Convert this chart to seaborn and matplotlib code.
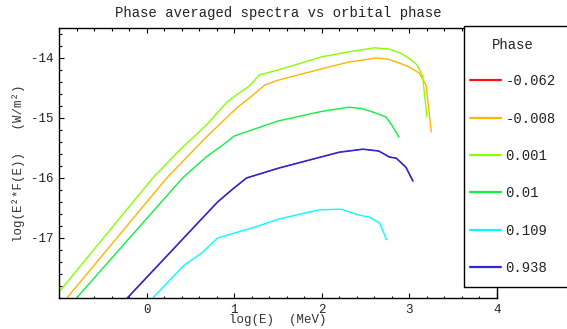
import numpy as np
import pandas as pd
import matplotlib
matplotlib.use("Agg")
import matplotlib.pyplot as plt
import seaborn as sns
from matplotlib.patches import Rectangle
from matplotlib.lines import Line2D
from matplotlib.ticker import MultipleLocator, FormatStrFormatter

# ---- data ----
phases = ["-0.062", "-0.008", "0.001", "0.01", "0.109", "0.938"]
colors = ["#ff1010", "#ffb400", "#88ff00", "#10ee40", "#00ffff", "#2a2ad0"]

x_m0062 = [-0.22, 0.81, 0.97, 1.14, 1.52, 1.86, 2.2, 2.47, 2.65, 2.77, 2.85, 2.96, 3.04]
y_m0062 = [-18.0, -16.4, -16.2, -16.0, -15.83, -15.7, -15.57, -15.52, -15.55, -15.65, -15.67, -15.82, -16.05]

x_m0008 = [-0.91, 0.23, 0.68, 1.03, 1.17, 1.35, 1.5, 2.0, 2.3, 2.62, 2.76, 2.86, 3.0, 3.11, 3.19, 3.25]
y_m0008 = [-18.0, -16.0, -15.32, -14.83, -14.67, -14.45, -14.37, -14.18, -14.07, -14.0, -14.02, -14.07, -14.15, -14.25, -14.45, -15.23]

x_0001 = [-1.0, 0.07, 0.38, 0.68, 0.92, 1.02, 1.17, 1.29, 1.5, 2.0, 2.3, 2.6, 2.77, 2.9, 3.02, 3.09, 3.15, 3.2]
y_0001 = [-17.9, -16.0, -15.53, -15.12, -14.73, -14.62, -14.47, -14.28, -14.2, -13.98, -13.9, -13.83, -13.85, -13.92, -14.03, -14.12, -14.3, -14.98]

x_001 = [-0.8, 0.41, 0.68, 0.87, 1.0, 1.5, 2.0, 2.31, 2.45, 2.58, 2.73, 2.8, 2.88]
y_001 = [-18.0, -16.0, -15.65, -15.45, -15.3, -15.05, -14.89, -14.82, -14.84, -14.9, -14.98, -15.12, -15.32]

x_0109 = [0.07, 0.43, 0.63, 0.81, 1.23, 1.52, 1.97, 2.22, 2.43, 2.54, 2.66, 2.74]
y_0109 = [-18.0, -17.45, -17.25, -17.0, -16.82, -16.68, -16.53, -16.52, -16.62, -16.65, -16.75, -17.03]

x_0938 = [-0.22, 0.81, 0.97, 1.14, 1.52, 1.86, 2.2, 2.47, 2.65, 2.77, 2.85, 2.96, 3.04]
y_0938 = [-18.0, -16.4, -16.2, -16.0, -15.83, -15.7, -15.57, -15.52, -15.55, -15.65, -15.67, -15.82, -16.05]

xs = [x_m0062, x_m0008, x_0001, x_001, x_0109, x_0938]
ys = [y_m0062, y_m0008, y_0001, y_001, y_0109, y_0938]

frames = []
for p, xv, yv in zip(phases, xs, ys):
    frames.append(pd.DataFrame({"logE": xv, "logF": yv, "Phase": p}))
df = pd.concat(frames, ignore_index=True)

# ---- style ----
sns.set_theme(style="ticks", rc={
    "xtick.direction": "in", "ytick.direction": "in",
    "xtick.top": True, "ytick.right": True,
    "xtick.major.size": 3.5, "ytick.major.size": 3.5,
    "xtick.minor.size": 1.8, "ytick.minor.size": 1.8,
    "xtick.major.width": 0.8, "ytick.major.width": 0.8,
    "xtick.minor.width": 0.8, "ytick.minor.width": 0.8,
    "xtick.color": "black", "ytick.color": "black",
})
mono = "Liberation Mono"
plt.rcParams["font.family"] = [mono, "DejaVu Sans"]
plt.rcParams["axes.unicode_minus"] = False

W, H = 567, 329
fig = plt.figure(figsize=(W / 100, H / 100), dpi=100)
L, R, T, B = 59, 497, 28, 298
ax = fig.add_axes([L / W, 1 - B / H, (R - L) / W, (B - T) / H])

sns.lineplot(data=df, x="logE", y="logF", hue="Phase", hue_order=phases,
             palette=dict(zip(phases, colors)), sort=False, estimator=None,
             units="Phase", linewidth=1.0, legend=False, ax=ax)
# the hidden red curve lies exactly beneath the blue one: keep it thinner
ax.lines[0].set_linewidth(0.6)
ax.lines[-1].set_linewidth(1.2)

ax.set_xlim(-1, 4)
ax.set_ylim(-18, -13.5)
ax.set_xticks([0, 1, 2, 3, 4])
ax.set_yticks([-17, -16, -15, -14])
ax.xaxis.set_minor_locator(MultipleLocator(0.2))
ax.yaxis.set_minor_locator(MultipleLocator(0.2))
ax.xaxis.set_major_formatter(FormatStrFormatter("%d"))
ax.yaxis.set_major_formatter(FormatStrFormatter("%d"))

ax.tick_params(which="both", direction="in", top=True, right=True,
               bottom=True, left=True,
               color="black", width=0.8, labelsize=9, labelcolor="#222222")
ax.tick_params(which="major", length=3.5, pad=4)
ax.tick_params(which="minor", length=1.8)
for s in ax.spines.values():
    s.set_visible(True)
    s.set_color("black")
    s.set_linewidth(1.0)

ax.set_title("Phase averaged spectra vs orbital phase", fontsize=10,
             color="#222222", pad=8)
ax.set_xlabel("log(E)  (MeV)", fontsize=9, color="#333333", labelpad=-1)
ax.set_ylabel("log(E²*F(E))   (W/m²)", fontsize=9, color="#333333", labelpad=4)

# legend box covering right part of the axes
rect = Rectangle((464 / W, 1 - 287 / H), 0.5, (287 - 26) / H,
                 transform=fig.transFigure, facecolor="white",
                 edgecolor="black", linewidth=1.0, zorder=3)
fig.patches.append(rect)

handles = [Line2D([0], [0], color=c, lw=1.6) for c in colors]
leg = fig.legend(handles, phases, loc="upper left",
                 bbox_to_anchor=(470 / W, 1 - 38 / H), bbox_transform=fig.transFigure,
                 frameon=False, title="Phase", fontsize=10, title_fontsize=10,
                 handlelength=2.25, handletextpad=0.3, labelspacing=1.68,
                 borderpad=0.0, borderaxespad=0.0)
leg.set_zorder(4)
for t in leg.get_texts():
    t.set_color("#222222")
leg.get_title().set_color("#222222")
leg._legend_box.sep = 16

fig.savefig("out.png", dpi=100)
